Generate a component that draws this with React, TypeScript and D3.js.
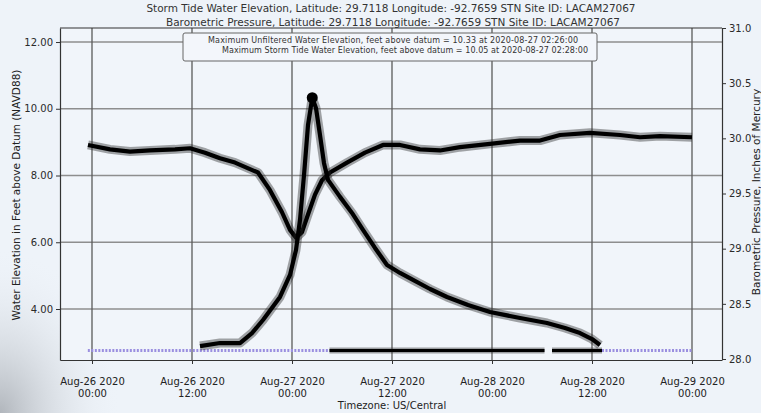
import React, { useEffect, useRef } from "react";
import * as d3 from "d3";

const W = 761;
const H = 413;

const titleLines = [
  "Storm Tide Water Elevation, Latitude: 29.7118 Longitude: -92.7659 STN Site ID: LACAM27067",
  "Barometric Pressure, Latitude: 29.7118 Longitude: -92.7659 STN Site ID: LACAM27067",
];
const legendLines = [
  "Maximum Unfiltered Water Elevation, feet above datum = 10.33 at 2020-08-27 02:26:00",
  "Maximum Storm Tide Water Elevation, feet above datum = 10.05 at 2020-08-27 02:28:00",
];
const yLeftLabel = "Water Elevation in Feet above Datum (NAVD88)";
const yRightLabel = "Barometric Pressure, Inches of Mercury";
const xLabel = "Timezone: US/Central";

// hours after 2020-08-26 00:00 (US/Central)
const xTickHours = [0, 12, 24, 36, 48, 60, 72];
const leftTicks = [4, 6, 8, 10, 12];
const rightTicks = [28.0, 28.5, 29.0, 29.5, 30.0, 30.5, 31.0];

const waterHours = [12.96, 15.36, 17.76, 19.2, 20.52, 22.56, 23.76, 24.48, 24.96, 25.44, 25.92, 26.43, 26.88, 27.36, 27.84, 28.32, 29.76, 31.2, 32.52, 33.96, 35.4, 36.96, 38.52, 40.56, 42.6, 45.12, 47.76, 51.36, 54.6, 56.76, 58.56, 60.0, 60.96];
const waterFeet = [2.89, 2.98, 2.98, 3.28, 3.67, 4.36, 5.02, 5.77, 6.67, 8.01, 9.51, 10.33, 10.02, 9.21, 8.37, 7.87, 7.36, 6.88, 6.37, 5.83, 5.32, 5.08, 4.87, 4.6, 4.36, 4.12, 3.91, 3.73, 3.58, 3.43, 3.28, 3.1, 2.92];

const pressureHours = [-0.48, 2.16, 4.56, 6.96, 9.96, 11.76, 13.56, 15.36, 17.16, 19.92, 21.36, 22.8, 23.76, 24.48, 25.2, 25.92, 26.76, 27.6, 28.56, 30.6, 32.76, 34.92, 36.96, 39.36, 41.76, 44.16, 47.76, 51.36, 53.76, 56.16, 59.76, 63.36, 65.76, 68.16, 72.0];
const pressureInHg = [29.94, 29.9, 29.88, 29.89, 29.9, 29.91, 29.87, 29.82, 29.78, 29.69, 29.53, 29.33, 29.17, 29.1, 29.15, 29.31, 29.49, 29.62, 29.69, 29.78, 29.87, 29.94, 29.94, 29.9, 29.89, 29.92, 29.95, 29.98, 29.98, 30.03, 30.05, 30.03, 30.01, 30.02, 30.01];

// flat sensor-level band near the bottom
const baselineFeet = 2.76;
const dryBandSpans = [[-0.5, 28.5], [61.2, 72.0]];
const wetBandSpans = [[28.5, 54.3], [55.2, 61.2]];

const peakHour = 26.43;
const peakFeet = 10.33;

const BASE = Date.UTC(2020, 7, 26, 0, 0);
const toDate = (h: number) => new Date(BASE + h * 3600e3);

const FONT = "DejaVu Sans, Verdana, sans-serif";

export default function App() {
  const ref = useRef<SVGSVGElement | null>(null);

  useEffect(() => {
    const svg = d3.select(ref.current);
    svg.selectAll("*").remove();

    const L = 60, R = 722, T = 28, B = 360;
    const x = d3.scaleUtc().domain([toDate(-3.84), toDate(75.6)]).range([L, R]);
    const yL = d3.scaleLinear().domain([2.472, 12.42]).range([B, T]);
    const yR = d3.scaleLinear().domain([28, 31]).range([B - 1, T]);

    const defs = svg.append("defs");
    const rg = defs.append("radialGradient").attr("id", "tex").attr("cx", 0).attr("cy", 1).attr("r", 0.4);
    rg.append("stop").attr("offset", "0").attr("stop-color", "#aeb3b9").attr("stop-opacity", 0.95);
    rg.append("stop").attr("offset", "1").attr("stop-color", "#eef3f9").attr("stop-opacity", 0);

    svg.append("rect").attr("width", W).attr("height", H).attr("fill", "#eef3f9");
    svg.append("rect").attr("width", W * 0.4).attr("height", H).attr("y", 0).attr("fill", "url(#tex)");
    svg.append("rect").attr("x", L).attr("y", T).attr("width", R - L).attr("height", B - T).attr("fill", "#f1f5fa");

    // grid
    const g = svg.append("g");
    g.selectAll("line.h").data(leftTicks).join("line")
      .attr("x1", L).attr("x2", R).attr("y1", (d) => yL(d)).attr("y2", (d) => yL(d))
      .attr("stroke", "#8e8e8e").attr("stroke-width", 1.4);
    g.selectAll("line.v").data(xTickHours).join("line")
      .attr("y1", T).attr("y2", B).attr("x1", (d) => x(toDate(d))).attr("x2", (d) => x(toDate(d)))
      .attr("stroke", "#5a5a5a").attr("stroke-width", 1.3);

    // bottom band
    const bandLine = d3.line<number>().x((h) => x(toDate(h))).y(() => yL(baselineFeet));
    dryBandSpans.forEach((s) => {
      svg.append("path").attr("d", bandLine(s)).attr("stroke", "#9b8fe0").attr("stroke-width", 3)
        .attr("stroke-dasharray", "2,1.5").attr("fill", "none");
    });
    wetBandSpans.forEach((s) => {
      svg.append("path").attr("d", bandLine(s)).attr("stroke", "#333").attr("stroke-width", 6)
        .attr("stroke-opacity", 0.45).attr("fill", "none");
      svg.append("path").attr("d", bandLine(s)).attr("stroke", "#000").attr("stroke-width", 3).attr("fill", "none");
    });

    const drawSeries = (d: string | null) => {
      svg.append("path").attr("d", d).attr("stroke", "#222").attr("stroke-width", 9)
        .attr("stroke-opacity", 0.4).attr("fill", "none").attr("stroke-linejoin", "round");
      svg.append("path").attr("d", d).attr("stroke", "#000").attr("stroke-width", 4.2)
        .attr("fill", "none").attr("stroke-linejoin", "round");
    };

    // pressure
    const pLine = d3.line<number>().x((_, i) => x(toDate(pressureHours[i]))).y((v) => yR(v));
    drawSeries(pLine(pressureInHg));

    // water
    const wLine = d3.line<number>().x((_, i) => x(toDate(waterHours[i]))).y((v) => yL(v));
    drawSeries(wLine(waterFeet));
    svg.append("circle").attr("cx", x(toDate(peakHour))).attr("cy", yL(peakFeet)).attr("r", 5.5).attr("fill", "#000");

    // axes
    const styleAxis = (sel: any) => {
      sel.selectAll("text").attr("font-family", FONT).attr("font-size", 10).attr("fill", "#2a2a2a");
      sel.selectAll("line").attr("stroke", "#333");
      sel.select(".domain").attr("stroke", "#333").attr("stroke-width", 1.2);
    };
    const axL = svg.append("g").attr("transform", `translate(${L},0)`)
      .call(d3.axisLeft(yL).tickValues(leftTicks).tickFormat(d3.format(".2f")).tickSize(4).tickSizeOuter(0));
    styleAxis(axL);
    const axR = svg.append("g").attr("transform", `translate(${R},0)`)
      .call(d3.axisRight(yR).tickValues(rightTicks).tickFormat(d3.format(".1f")).tickSize(4).tickSizeOuter(0));
    styleAxis(axR);
    const axB = svg.append("g").attr("transform", `translate(0,${B})`)
      .call(d3.axisBottom(x).tickValues(xTickHours.map(toDate)).tickFormat(() => "").tickSize(4).tickSizeOuter(0));
    styleAxis(axB);
    const fmt1 = d3.utcFormat("%b-%d %Y");
    const fmt2 = d3.utcFormat("%H:%M");
    axB.selectAll(".tick").each(function (d: any) {
      const t = d3.select(this);
      t.select("text").remove();
      const tx = t.append("text").attr("font-family", FONT).attr("font-size", 10).attr("fill", "#222")
        .attr("text-anchor", "middle");
      tx.append("tspan").attr("x", 0).attr("y", 25).text(fmt1(d));
      tx.append("tspan").attr("x", 0).attr("y", 37).text(fmt2(d));
    });
    svg.append("line").attr("x1", L).attr("x2", R).attr("y1", T).attr("y2", T).attr("stroke", "#333").attr("stroke-width", 1.2);

    // titles
    svg.append("text").attr("x", 391).attr("y", 12).attr("text-anchor", "middle").attr("font-family", FONT)
      .attr("font-size", 10.5).attr("fill", "#333").attr("textLength", 489).text(titleLines[0]);
    svg.append("text").attr("x", 393).attr("y", 26).attr("text-anchor", "middle").attr("font-family", FONT)
      .attr("font-size", 10.5).attr("fill", "#333").attr("textLength", 454).text(titleLines[1]);

    // legend box
    svg.append("rect").attr("x", 183).attr("y", 33).attr("width", 414).attr("height", 28)
      .attr("fill", "#f3f6fb").attr("stroke", "#666").attr("stroke-width", 1).attr("rx", 2);
    svg.append("text").attr("x", 208).attr("y", 43).attr("font-family", FONT).attr("font-size", 8)
      .attr("fill", "#333").attr("textLength", 370).text(legendLines[0]);
    svg.append("text").attr("x", 222).attr("y", 53).attr("font-family", FONT).attr("font-size", 8)
      .attr("fill", "#333").attr("textLength", 366).text(legendLines[1]);

    // axis labels
    svg.append("text").attr("transform", "translate(20,195) rotate(-90)").attr("text-anchor", "middle")
      .attr("font-family", FONT).attr("font-size", 10.5).attr("fill", "#222").text(yLeftLabel);
    svg.append("text").attr("transform", "translate(760,192) rotate(-90)").attr("text-anchor", "middle")
      .attr("font-family", FONT).attr("font-size", 10.5).attr("fill", "#222").text(yRightLabel);
    svg.append("text").attr("x", 392).attr("y", 409).attr("text-anchor", "middle").attr("font-family", FONT)
      .attr("font-size", 10).attr("fill", "#222").text(xLabel);
  }, []);

  return (
    <div style={{ position: "fixed", left: 0, top: 0, width: W, height: H }}>
      <svg ref={ref} width={W} height={H} />
    </div>
  );
}
